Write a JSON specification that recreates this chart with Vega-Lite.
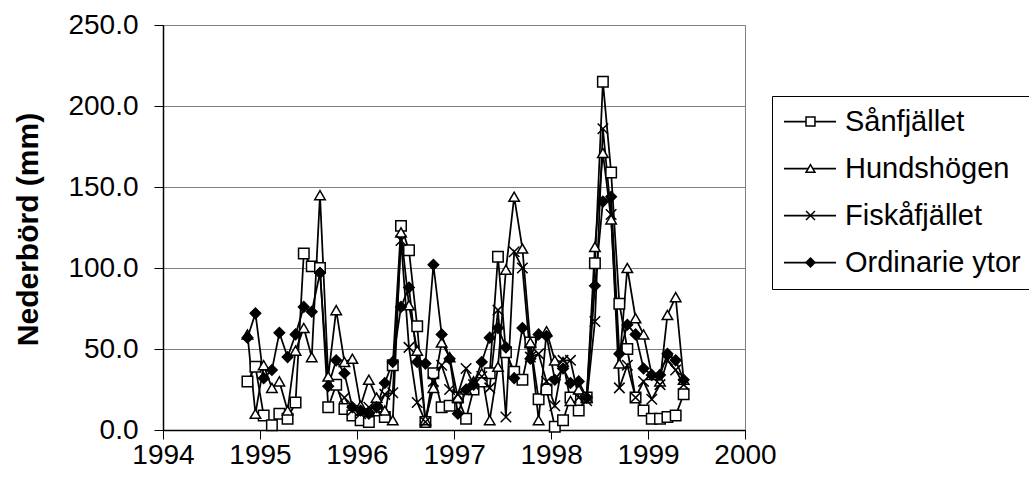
{
  "$schema": "https://vega.github.io/schema/vega-lite/v6.json",
  "autosize": {"type": "none"},
  "padding": {"left": 163, "top": 25, "right": 284, "bottom": 56},
  "width": 582,
  "height": 405,
  "background": "white",
  "config": {
    "view": {"stroke": "#808080", "strokeWidth": 1},
    "font": "Liberation Sans"
  },
  "resolve": {"legend": {"stroke": "independent", "shape": "independent", "fill": "independent"}},
  "data": {"values": [
    {"s":"Sånfjället","d":"1994-11-15","v":30},{"s":"Sånfjället","d":"1994-12-15","v":39},
    {"s":"Sånfjället","d":"1995-01-15","v":9},{"s":"Sånfjället","d":"1995-02-15","v":3},{"s":"Sånfjället","d":"1995-03-15","v":10},{"s":"Sånfjället","d":"1995-04-15","v":7},{"s":"Sånfjället","d":"1995-05-15","v":17},{"s":"Sånfjället","d":"1995-06-15","v":109},{"s":"Sånfjället","d":"1995-07-15","v":101},{"s":"Sånfjället","d":"1995-08-15","v":100},{"s":"Sånfjället","d":"1995-09-15","v":14},{"s":"Sånfjället","d":"1995-10-15","v":28},{"s":"Sånfjället","d":"1995-11-15","v":13},{"s":"Sånfjället","d":"1995-12-15","v":9},
    {"s":"Sånfjället","d":"1996-01-15","v":6},{"s":"Sånfjället","d":"1996-02-15","v":5},{"s":"Sånfjället","d":"1996-03-15","v":12},{"s":"Sånfjället","d":"1996-04-15","v":8},{"s":"Sånfjället","d":"1996-05-15","v":40},{"s":"Sånfjället","d":"1996-06-15","v":126},{"s":"Sånfjället","d":"1996-07-15","v":111},{"s":"Sånfjället","d":"1996-08-15","v":64},{"s":"Sånfjället","d":"1996-09-15","v":5},{"s":"Sånfjället","d":"1996-10-15","v":35},{"s":"Sånfjället","d":"1996-11-15","v":14},{"s":"Sånfjället","d":"1996-12-15","v":15},
    {"s":"Sånfjället","d":"1997-01-15","v":20},{"s":"Sånfjället","d":"1997-02-15","v":7},{"s":"Sånfjället","d":"1997-03-15","v":25},{"s":"Sånfjället","d":"1997-04-15","v":30},{"s":"Sånfjället","d":"1997-05-15","v":35},{"s":"Sånfjället","d":"1997-06-15","v":107},{"s":"Sånfjället","d":"1997-07-15","v":48},{"s":"Sånfjället","d":"1997-08-15","v":36},{"s":"Sånfjället","d":"1997-09-15","v":31},{"s":"Sånfjället","d":"1997-10-15","v":54},{"s":"Sånfjället","d":"1997-11-15","v":19},{"s":"Sånfjället","d":"1997-12-15","v":25},
    {"s":"Sånfjället","d":"1998-01-15","v":2},{"s":"Sånfjället","d":"1998-02-15","v":6},{"s":"Sånfjället","d":"1998-03-15","v":20},{"s":"Sånfjället","d":"1998-04-15","v":12},{"s":"Sånfjället","d":"1998-05-15","v":20},{"s":"Sånfjället","d":"1998-06-15","v":103},{"s":"Sånfjället","d":"1998-07-15","v":215},{"s":"Sånfjället","d":"1998-08-15","v":159},{"s":"Sånfjället","d":"1998-09-15","v":78},{"s":"Sånfjället","d":"1998-10-15","v":50},{"s":"Sånfjället","d":"1998-11-15","v":20},{"s":"Sånfjället","d":"1998-12-15","v":12},
    {"s":"Sånfjället","d":"1999-01-15","v":7},{"s":"Sånfjället","d":"1999-02-15","v":7},{"s":"Sånfjället","d":"1999-03-15","v":8},{"s":"Sånfjället","d":"1999-04-15","v":9},{"s":"Sånfjället","d":"1999-05-15","v":22},

    {"s":"Hundshögen","d":"1994-11-15","v":59},{"s":"Hundshögen","d":"1994-12-15","v":10},
    {"s":"Hundshögen","d":"1995-01-15","v":40},{"s":"Hundshögen","d":"1995-02-15","v":26},{"s":"Hundshögen","d":"1995-03-15","v":30},{"s":"Hundshögen","d":"1995-04-15","v":12},{"s":"Hundshögen","d":"1995-05-15","v":49},{"s":"Hundshögen","d":"1995-06-15","v":63},{"s":"Hundshögen","d":"1995-07-15","v":45},{"s":"Hundshögen","d":"1995-08-15","v":145},{"s":"Hundshögen","d":"1995-09-15","v":33},{"s":"Hundshögen","d":"1995-10-15","v":74},{"s":"Hundshögen","d":"1995-11-15","v":42},{"s":"Hundshögen","d":"1995-12-15","v":44},
    {"s":"Hundshögen","d":"1996-01-15","v":15},{"s":"Hundshögen","d":"1996-02-15","v":31},{"s":"Hundshögen","d":"1996-03-15","v":20},{"s":"Hundshögen","d":"1996-04-15","v":12},{"s":"Hundshögen","d":"1996-05-15","v":6},{"s":"Hundshögen","d":"1996-06-15","v":122},{"s":"Hundshögen","d":"1996-07-15","v":77},{"s":"Hundshögen","d":"1996-08-15","v":49},{"s":"Hundshögen","d":"1996-09-15","v":6},{"s":"Hundshögen","d":"1996-10-15","v":26},{"s":"Hundshögen","d":"1996-11-15","v":54},{"s":"Hundshögen","d":"1996-12-15","v":45},
    {"s":"Hundshögen","d":"1997-01-15","v":20},{"s":"Hundshögen","d":"1997-02-15","v":25},{"s":"Hundshögen","d":"1997-03-15","v":30},{"s":"Hundshögen","d":"1997-04-15","v":35},{"s":"Hundshögen","d":"1997-05-15","v":6},{"s":"Hundshögen","d":"1997-06-15","v":39},{"s":"Hundshögen","d":"1997-07-15","v":99},{"s":"Hundshögen","d":"1997-08-15","v":144},{"s":"Hundshögen","d":"1997-09-15","v":112},{"s":"Hundshögen","d":"1997-10-15","v":54},{"s":"Hundshögen","d":"1997-11-15","v":6},{"s":"Hundshögen","d":"1997-12-15","v":61},
    {"s":"Hundshögen","d":"1998-01-15","v":43},{"s":"Hundshögen","d":"1998-02-15","v":42},{"s":"Hundshögen","d":"1998-03-15","v":18},{"s":"Hundshögen","d":"1998-04-15","v":25},{"s":"Hundshögen","d":"1998-05-15","v":20},{"s":"Hundshögen","d":"1998-06-15","v":113},{"s":"Hundshögen","d":"1998-07-15","v":171},{"s":"Hundshögen","d":"1998-08-15","v":130},{"s":"Hundshögen","d":"1998-09-15","v":41},{"s":"Hundshögen","d":"1998-10-15","v":100},{"s":"Hundshögen","d":"1998-11-15","v":69},{"s":"Hundshögen","d":"1998-12-15","v":59},
    {"s":"Hundshögen","d":"1999-01-15","v":34},{"s":"Hundshögen","d":"1999-02-15","v":30},{"s":"Hundshögen","d":"1999-03-15","v":71},{"s":"Hundshögen","d":"1999-04-15","v":82},{"s":"Hundshögen","d":"1999-05-15","v":31},

    {"s":"Fiskåfjället","d":"1995-11-15","v":20},{"s":"Fiskåfjället","d":"1995-12-15","v":12},
    {"s":"Fiskåfjället","d":"1996-01-15","v":10},{"s":"Fiskåfjället","d":"1996-02-15","v":14},{"s":"Fiskåfjället","d":"1996-03-15","v":12},{"s":"Fiskåfjället","d":"1996-04-15","v":22},{"s":"Fiskåfjället","d":"1996-05-15","v":23},{"s":"Fiskåfjället","d":"1996-06-15","v":117},{"s":"Fiskåfjället","d":"1996-07-15","v":51},{"s":"Fiskåfjället","d":"1996-08-15","v":17},{"s":"Fiskåfjället","d":"1996-09-15","v":5},{"s":"Fiskåfjället","d":"1996-10-15","v":30},{"s":"Fiskåfjället","d":"1996-11-15","v":40},{"s":"Fiskåfjället","d":"1996-12-15","v":25},
    {"s":"Fiskåfjället","d":"1997-01-15","v":22},{"s":"Fiskåfjället","d":"1997-02-15","v":38},{"s":"Fiskåfjället","d":"1997-03-15","v":28},{"s":"Fiskåfjället","d":"1997-04-15","v":33},{"s":"Fiskåfjället","d":"1997-05-15","v":26},{"s":"Fiskåfjället","d":"1997-06-15","v":74},{"s":"Fiskåfjället","d":"1997-07-15","v":8},{"s":"Fiskåfjället","d":"1997-08-15","v":110},{"s":"Fiskåfjället","d":"1997-09-15","v":100},{"s":"Fiskåfjället","d":"1997-10-15","v":45},{"s":"Fiskåfjället","d":"1997-11-15","v":47},{"s":"Fiskåfjället","d":"1997-12-15","v":30},
    {"s":"Fiskåfjället","d":"1998-01-15","v":15},{"s":"Fiskåfjället","d":"1998-02-15","v":43},{"s":"Fiskåfjället","d":"1998-03-15","v":43},{"s":"Fiskåfjället","d":"1998-04-15","v":20},{"s":"Fiskåfjället","d":"1998-05-15","v":18},{"s":"Fiskåfjället","d":"1998-06-15","v":67},{"s":"Fiskåfjället","d":"1998-07-15","v":186},{"s":"Fiskåfjället","d":"1998-08-15","v":133},{"s":"Fiskåfjället","d":"1998-09-15","v":26},{"s":"Fiskåfjället","d":"1998-10-15","v":40},{"s":"Fiskåfjället","d":"1998-11-15","v":20},{"s":"Fiskåfjället","d":"1998-12-15","v":30},
    {"s":"Fiskåfjället","d":"1999-01-15","v":19},{"s":"Fiskåfjället","d":"1999-02-15","v":28},{"s":"Fiskåfjället","d":"1999-03-15","v":43},{"s":"Fiskåfjället","d":"1999-04-15","v":37},{"s":"Fiskåfjället","d":"1999-05-15","v":28},

    {"s":"Ordinarie ytor","d":"1994-11-15","v":57},{"s":"Ordinarie ytor","d":"1994-12-15","v":72},
    {"s":"Ordinarie ytor","d":"1995-01-15","v":32},{"s":"Ordinarie ytor","d":"1995-02-15","v":37},{"s":"Ordinarie ytor","d":"1995-03-15","v":60},{"s":"Ordinarie ytor","d":"1995-04-15","v":45},{"s":"Ordinarie ytor","d":"1995-05-15","v":59},{"s":"Ordinarie ytor","d":"1995-06-15","v":76},{"s":"Ordinarie ytor","d":"1995-07-15","v":73},{"s":"Ordinarie ytor","d":"1995-08-15","v":97},{"s":"Ordinarie ytor","d":"1995-09-15","v":27},{"s":"Ordinarie ytor","d":"1995-10-15","v":43},{"s":"Ordinarie ytor","d":"1995-11-15","v":35},{"s":"Ordinarie ytor","d":"1995-12-15","v":14},
    {"s":"Ordinarie ytor","d":"1996-01-15","v":12},{"s":"Ordinarie ytor","d":"1996-02-15","v":10},{"s":"Ordinarie ytor","d":"1996-03-15","v":14},{"s":"Ordinarie ytor","d":"1996-04-15","v":29},{"s":"Ordinarie ytor","d":"1996-05-15","v":42},{"s":"Ordinarie ytor","d":"1996-06-15","v":76},{"s":"Ordinarie ytor","d":"1996-07-15","v":88},{"s":"Ordinarie ytor","d":"1996-08-15","v":42},{"s":"Ordinarie ytor","d":"1996-09-15","v":41},{"s":"Ordinarie ytor","d":"1996-10-15","v":102},{"s":"Ordinarie ytor","d":"1996-11-15","v":59},{"s":"Ordinarie ytor","d":"1996-12-15","v":44},
    {"s":"Ordinarie ytor","d":"1997-01-15","v":10},{"s":"Ordinarie ytor","d":"1997-02-15","v":25},{"s":"Ordinarie ytor","d":"1997-03-15","v":28},{"s":"Ordinarie ytor","d":"1997-04-15","v":42},{"s":"Ordinarie ytor","d":"1997-05-15","v":57},{"s":"Ordinarie ytor","d":"1997-06-15","v":63},{"s":"Ordinarie ytor","d":"1997-07-15","v":51},{"s":"Ordinarie ytor","d":"1997-08-15","v":32},{"s":"Ordinarie ytor","d":"1997-09-15","v":63},{"s":"Ordinarie ytor","d":"1997-10-15","v":44},{"s":"Ordinarie ytor","d":"1997-11-15","v":59},{"s":"Ordinarie ytor","d":"1997-12-15","v":58},
    {"s":"Ordinarie ytor","d":"1998-01-15","v":31},{"s":"Ordinarie ytor","d":"1998-02-15","v":38},{"s":"Ordinarie ytor","d":"1998-03-15","v":29},{"s":"Ordinarie ytor","d":"1998-04-15","v":30},{"s":"Ordinarie ytor","d":"1998-05-15","v":20},{"s":"Ordinarie ytor","d":"1998-06-15","v":89},{"s":"Ordinarie ytor","d":"1998-07-15","v":141},{"s":"Ordinarie ytor","d":"1998-08-15","v":144},{"s":"Ordinarie ytor","d":"1998-09-15","v":47},{"s":"Ordinarie ytor","d":"1998-10-15","v":65},{"s":"Ordinarie ytor","d":"1998-11-15","v":59},{"s":"Ordinarie ytor","d":"1998-12-15","v":38},
    {"s":"Ordinarie ytor","d":"1999-01-15","v":34},{"s":"Ordinarie ytor","d":"1999-02-15","v":34},{"s":"Ordinarie ytor","d":"1999-03-15","v":47},{"s":"Ordinarie ytor","d":"1999-04-15","v":43},{"s":"Ordinarie ytor","d":"1999-05-15","v":31}
  ]},
  "encoding": {
    "x": {
      "field": "d", "type": "temporal",
      "scale": {"type": "utc", "domain": [{"year": 1994, "month": 1, "date": 1, "utc": true}, {"year": 2000, "month": 1, "date": 1, "utc": true}]},
      "axis": {
        "title": null, "format": "%Y", "grid": false,
        "values": [{"year":1994,"utc":true},{"year":1995,"utc":true},{"year":1996,"utc":true},{"year":1997,"utc":true},{"year":1998,"utc":true},{"year":1999,"utc":true},{"year":2000,"utc":true}],
        "labelFont": "Liberation Sans", "labelFontSize": 28, "labelColor": "black",
        "labelFlush": false, "labelOverlap": false, "labelPadding": 2,
        "tickSize": 9, "tickColor": "black", "tickWidth": 1,
        "domainColor": "black", "domainWidth": 1.5
      }
    },
    "y": {
      "field": "v", "type": "quantitative",
      "scale": {"domain": [0, 250], "nice": false, "zero": true},
      "axis": {
        "title": "Nederbörd (mm)", "titleFont": "Liberation Sans", "titleFontSize": 30, "titleFontWeight": "bold", "titleColor": "black",
        "titleAngle": 270, "titleBaseline": "middle", "titleAlign": "center", "titleX": -135, "titleY": 204,
        "values": [0, 50, 100, 150, 200, 250], "format": ".1f",
        "labelFont": "Liberation Sans", "labelFontSize": 28, "labelColor": "black", "labelPadding": 16,
        "labelFlush": false,
        "tickSize": 9, "tickColor": "black", "tickWidth": 1,
        "domainColor": "black", "domainWidth": 1.5,
        "grid": true, "gridColor": "#808080", "gridWidth": 1
      }
    }
  },
  "layer": [
    {
      "mark": {"type": "line", "strokeWidth": 1.75},
      "encoding": {
        "stroke": {
          "field": "s", "type": "nominal",
          "scale": {"domain": ["Sånfjället", "Hundshögen", "Fiskåfjället", "Ordinarie ytor"], "range": ["black", "black", "black", "black"]},
          "legend": {
            "title": null, "orient": "none", "legendX": 609, "legendY": 71,
            "strokeColor": "black", "fillColor": "white", "padding": 11, "clipHeight": 29,
            "labelFont": "Liberation Sans", "labelFontSize": 29, "labelColor": "black", "labelOffset": 8, "labelLimit": 400,
            "rowPadding": 17, "symbolType": "stroke", "symbolSize": 2704, "symbolStrokeWidth": 1.75
          }
        }
      }
    },
    {
      "mark": {"type": "point", "filled": true, "stroke": "black", "strokeWidth": 1.5, "opacity": 1, "size": 110},
      "encoding": {
        "shape": {
          "field": "s", "type": "nominal",
          "scale": {"domain": ["Sånfjället", "Hundshögen", "Fiskåfjället", "Ordinarie ytor"], "range": ["square", "triangle-up", "M-1,-1L1,1M-1,1L1,-1", "diamond"]},
          "legend": {
            "title": null, "orient": "none", "legendX": 609, "legendY": 71,
            "padding": 11, "clipHeight": 29,
            "labelFontSize": 29, "labelExpr": "''", "labelOffset": 0, "labelLimit": 10,
            "rowPadding": 17, "symbolSize": 80, "symbolOffset": 13, "symbolStrokeWidth": 1.5, "symbolOpacity": 1
          }
        },
        "fill": {
          "field": "s", "type": "nominal",
          "scale": {"domain": ["Sånfjället", "Hundshögen", "Fiskåfjället", "Ordinarie ytor"], "range": ["white", "white", "white", "black"]},
          "legend": null
        }
      }
    }
  ]
}
